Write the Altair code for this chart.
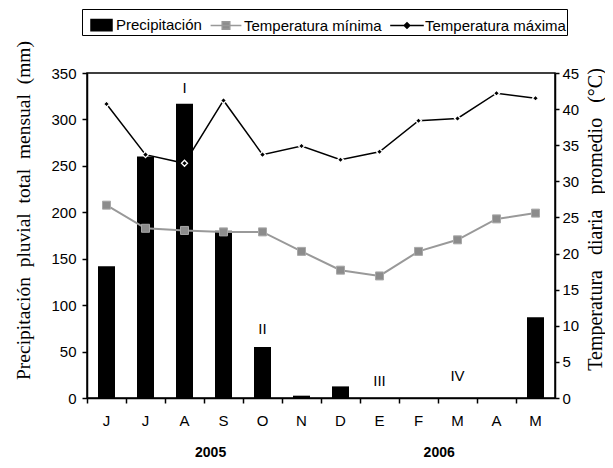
import altair as alt
import pandas as pd

# ---- data ----
months = ["Jun", "Jul", "Ago", "Sep", "Oct", "Nov", "Dic", "Ene", "Feb", "Mar", "Abr", "May"]
precip = [142, 260, 317, 180, 55, 2.5, 12.5, 0, 0, 0, 0, 87]
tmin = [26.7, 23.5, 23.2, 23.0, 23.0, 20.3, 17.7, 16.9, 20.3, 21.9, 24.8, 25.6]
tmax = [40.7, 33.7, 32.5, 41.2, 33.7, 34.9, 33.0, 34.1, 38.4, 38.7, 42.2, 41.5]

ann_labels = ["I", "II", "III", "IV"]
ann_months = ["Ago", "Oct", "Ene", "Mar"]
ann_mm = [334, 74, 18, 24]

years = ["2005", "2006"]
year_months = ["Sep", "Mar"]
year_band = [0.17, 0.03]

series = ["Precipitación", "Temperatura mínima", "Temperatura máxima"]

SANS = "Liberation Sans"
SERIF = "Liberation Serif"

df = pd.DataFrame({"mes": months, "precip": precip, "tmin": tmin, "tmax": tmax})
ann = pd.DataFrame({"mes": ann_months, "y": ann_mm, "t": ann_labels})
leg = pd.DataFrame({"mes": [months[0]] * 3, "serie": series, "v": [None, None, None]})

x_axis = alt.Axis(title=None, labelExpr="substring(datum.label, 0, 1)", labelAngle=0,
                  bandPosition=0, tickSize=5, labelPadding=10)
X = alt.X("mes:N", sort=months, scale=alt.Scale(paddingInner=0, paddingOuter=0), axis=x_axis)

axis_l = alt.Axis(values=list(range(0, 351, 50)),
                  title=" \u00a0".join(["Precipitación", "pluvial", "total", "mensual", "(mm)"]),
                  titleFont=SERIF, titleFontSize=19.5, titleFontWeight="normal", titleAngle=270,
                  titleX=-54, titleY=137, titleBaseline="bottom", titleAlign="center",
                  tickSize=5, labelPadding=6)
axis_r = alt.Axis(orient="right", values=list(range(0, 46, 5)),
                  title=" \u00a0\u00a0".join(["Temperatura", "diaria", "promedio", "(°C)"]),
                  titleFont=SERIF, titleFontSize=20, titleFontWeight="normal", titleAngle=270,
                  titleX=50, titleY=146, titleBaseline="bottom", titleAlign="center",
                  tickSize=4, labelPadding=3)

def yl(field):
    return alt.Y(field, type="quantitative", scale=alt.Scale(domain=[0, 350]), axis=axis_l)

def yr(field):
    return alt.Y(field, type="quantitative", scale=alt.Scale(domain=[0, 45]), axis=axis_r)

bars = alt.Chart(df).mark_bar(size=17, color="black").encode(x=X, y=yl("precip"))

ann_text = alt.Chart(ann).mark_text(font=SANS, fontSize=15, color="black", baseline="middle").encode(
    x=X, y=yl("y"), text="t:N")

year_layers = []
for yt, ym, yb in zip(years, year_months, year_band):
    ydf = pd.DataFrame({"mes": [ym], "t": [yt], "y": [0]})
    year_layers.append(
        alt.Chart(ydf).mark_text(font=SANS, fontSize=14, fontWeight="bold", color="black",
                                 baseline="middle", dy=55).encode(
            x=alt.X("mes:N", sort=months, bandPosition=yb), y=yl("y"), text="t:N"))

left = alt.layer(bars, ann_text, *year_layers)

min_line = alt.Chart(df).mark_line(color="#999999", strokeWidth=2).encode(x=X, y=yr("tmin"))
min_pts = alt.Chart(df).mark_point(shape="square", filled=True, size=64, color="#8c8c8c",
                                   stroke="#a8a8a8", strokeWidth=1, opacity=1).encode(x=X, y=yr("tmin"))
max_line = alt.Chart(df).mark_line(color="black", strokeWidth=1.5).encode(x=X, y=yr("tmax"))
max_pts = alt.Chart(df).mark_point(shape="diamond", filled=True, size=36, color="black",
                                   stroke="white", strokeWidth=1.3, opacity=1).encode(x=X, y=yr("tmax"))

legend = alt.Legend(orient="none", legendX=-5, legendY=-64, direction="horizontal", title=None,
                    strokeColor="black", padding=1, labelFont=SANS, labelFontSize=15,
                    labelColor="black", symbolSize=784, symbolStrokeWidth=1.5,
                    labelOffset=3, columnPadding=5)
shapes = ["M-0.5,-0.4H1V0.4H-0.5Z",
          "M-1.1,0H1.1M-0.27,-0.27H0.27V0.27H-0.27Z",
          "M-1.2,0H1.2M0,-0.2L0.2,0L0,0.2L-0.2,0Z"]
leg_layer = alt.Chart(leg).mark_point(filled=True, opacity=1).encode(
    x=X, y=yr("v"),
    fill=alt.Fill("serie:N", scale=alt.Scale(domain=series, range=["black", "#8c8c8c", "black"]), legend=legend),
    stroke=alt.Stroke("serie:N", scale=alt.Scale(domain=series, range=["black", "#999999", "black"]), legend=legend),
    shape=alt.Shape("serie:N", scale=alt.Scale(domain=series, range=shapes), legend=legend),
)

right = alt.layer(min_line, min_pts, max_line, max_pts, leg_layer)

chart = alt.layer(left, right).resolve_scale(y="independent").properties(
    width=468, height=325,
    padding={"left": 79, "top": 65, "right": 50, "bottom": 62},
    autosize=alt.AutoSizeParams(type="none"),
).configure_view(stroke="black", strokeWidth=1.5).configure_axis(
    domainColor="black", domainWidth=1.5, tickColor="black", tickWidth=1.5,
    labelColor="black", labelFont=SANS, labelFontSize=15, grid=False, titleColor="black",
)

chart.save("out.html", embed_options={"renderer": "svg", "actions": False})
